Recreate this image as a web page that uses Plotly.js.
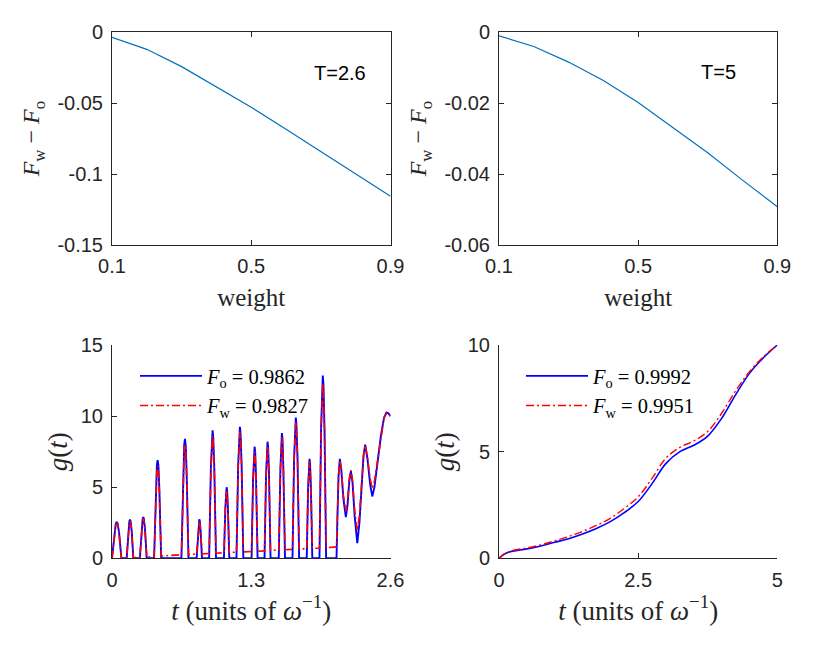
<!DOCTYPE html>
<html>
<head>
<meta charset="utf-8">
<script src="https://cdn.plot.ly/plotly-3.0.1.min.js"></script>
<style>
  body { margin: 0; background: #fff; }
  #graph { width: 830px; height: 651px; }
</style>
</head>
<body>
<div id="graph"></div>
<script>
// top row: fidelity difference vs weight
var weight = [0.1, 0.2, 0.3, 0.4, 0.5, 0.6, 0.7, 0.8, 0.9];
var diffT26 = [-0.0035, -0.0120, -0.0242, -0.0383, -0.0529, -0.0684, -0.0842, -0.0999, -0.1157];
var diffT5 = [-0.0010, -0.0040, -0.0084, -0.0136, -0.0198, -0.0268, -0.0340, -0.0417, -0.0492];

// bottom left: g(t) for T=2.6
var tShort = [0, 0.022, 0.035, 0.044, 0.053, 0.066, 0.088,
    0.137, 0.152, 0.162, 0.168, 0.174, 0.184, 0.199,
    0.260, 0.276, 0.286, 0.292, 0.298, 0.308, 0.324,
    0.393, 0.410, 0.419, 0.426, 0.433, 0.442, 0.459,
    0.648, 0.665, 0.674, 0.681, 0.688, 0.697, 0.714,
    0.790, 0.803, 0.810, 0.815, 0.820, 0.827, 0.840,
    0.907, 0.923, 0.933, 0.939, 0.945, 0.955, 0.971,
    1.045, 1.058, 1.065, 1.070, 1.075, 1.082, 1.095,
    1.162, 1.178, 1.188, 1.194, 1.200, 1.210, 1.226,
    1.303, 1.317, 1.325, 1.331, 1.337, 1.345, 1.359,
    1.424, 1.438, 1.446, 1.452, 1.458, 1.466, 1.480,
    1.557, 1.572, 1.580, 1.586, 1.592, 1.600, 1.615,
    1.685, 1.700, 1.710, 1.716, 1.722, 1.732, 1.747,
    1.818, 1.831, 1.839, 1.844, 1.849, 1.857, 1.870,
    1.937, 1.952, 1.962, 1.968, 1.974, 1.984, 1.999,
    2.096, 2.105, 2.115, 2.127, 2.140, 2.160, 2.183, 2.200, 2.215, 2.230,
    2.245, 2.265, 2.290, 2.310, 2.330, 2.348, 2.364, 2.385, 2.410, 2.430,
    2.450, 2.480, 2.510, 2.540, 2.562, 2.580, 2.600];
var gOrigShort = [0, 1.81, 2.42, 2.55, 2.42, 1.81, 0,
    0, 1.94, 2.59, 2.73, 2.59, 1.94, 0,
    0, 2.06, 2.76, 2.90, 2.76, 2.06, 0,
    0, 4.90, 6.56, 6.90, 6.56, 4.90, 0,
    0, 5.96, 7.98, 8.40, 7.98, 5.96, 0,
    0, 1.95, 2.61, 2.75, 2.61, 1.95, 0,
    0, 6.39, 8.55, 9.00, 8.55, 6.39, 0,
    0, 3.55, 4.75, 5.00, 4.75, 3.55, 0,
    0, 6.57, 8.79, 9.25, 8.79, 6.57, 0,
    0, 5.57, 7.46, 7.85, 7.46, 5.57, 0,
    0, 5.82, 7.79, 8.20, 7.79, 5.82, 0,
    0, 6.25, 8.36, 8.80, 8.36, 6.25, 0,
    0, 7.03, 9.41, 9.90, 9.41, 7.03, 0,
    0, 4.97, 6.65, 7.00, 6.65, 4.97, 0,
    0, 9.12, 12.21, 12.85, 12.21, 9.12, 0,
    0, 3.00, 5.80, 7.00, 6.30, 4.20, 2.90, 3.80, 5.40, 6.12,
    5.40, 3.00, 1.07, 2.50, 5.00, 7.20, 7.99, 7.00, 5.20, 4.35,
    5.00, 6.80, 8.60, 9.90, 10.25, 10.20, 10.00];
var gWeightShort = [0, 1.74, 2.33, 2.45, 2.33, 1.74, 0,
    0.03, 1.86, 2.47, 2.60, 2.47, 1.86, 0.05,
    0.07, 2.01, 2.66, 2.80, 2.66, 2.01, 0.09,
    0.12, 4.66, 6.18, 6.50, 6.18, 4.66, 0.16,
    0.25, 5.75, 7.61, 8.00, 7.61, 5.75, 0.27,
    0.29, 1.93, 2.49, 2.60, 2.49, 1.93, 0.31,
    0.34, 6.21, 8.19, 8.60, 8.19, 6.21, 0.36,
    0.39, 3.52, 4.58, 4.80, 4.58, 3.52, 0.41,
    0.43, 6.45, 8.48, 8.90, 8.48, 6.45, 0.45,
    0.48, 5.47, 7.15, 7.50, 7.15, 5.47, 0.50,
    0.52, 5.76, 7.53, 7.90, 7.53, 5.76, 0.55,
    0.58, 6.21, 8.10, 8.50, 8.10, 6.21, 0.60,
    0.63, 7.00, 9.15, 9.60, 9.15, 7.00, 0.65,
    0.68, 5.03, 6.49, 6.80, 6.49, 5.03, 0.70,
    0.72, 8.95, 11.72, 12.30, 11.72, 8.95, 0.75,
    0.80, 3.20, 5.80, 6.90, 6.30, 4.40, 3.30, 4.10, 5.60, 6.20,
    5.50, 3.40, 1.95, 3.00, 5.20, 7.20, 7.95, 7.10, 5.60, 4.90,
    5.40, 7.00, 8.60, 9.85, 10.20, 10.15, 10.00];

// bottom right: g(t) for T=5
var tLong = [0, 0.1, 0.2, 0.3, 0.5, 0.75, 1.0, 1.25, 1.5, 1.75, 2.0, 2.25, 2.5,
    2.75, 3.0, 3.25, 3.5, 3.75, 4.0, 4.25, 4.5, 4.75, 5.0];
var gOrigLong = [0, 0.20, 0.31, 0.36, 0.44, 0.58, 0.75, 0.92, 1.14, 1.40, 1.72, 2.14, 2.66,
    3.50, 4.45, 5.00, 5.30, 5.73, 6.56, 7.66, 8.67, 9.40, 10.0];
var gWeightLong = [0, 0.22, 0.33, 0.40, 0.48, 0.63, 0.82, 1.02, 1.26, 1.54, 1.87, 2.34, 2.88,
    3.75, 4.70, 5.20, 5.50, 5.95, 6.80, 7.85, 8.75, 9.45, 10.0];

var legendShort = ['<i>F</i><sub>o</sub> = 0.9862', '<i>F</i><sub>w</sub> = 0.9827'];
var legendLong = ['<i>F</i><sub>o</sub> = 0.9992', '<i>F</i><sub>w</sub> = 0.9951'];

var weightTicks = [0.1, 0.5, 0.9];
var diffT26Ticks = [0, -0.05, -0.1, -0.15];
var diffT26Text = ['0', '-0.05', '-0.1', '-0.15'];
var diffT5Ticks = [0, -0.02, -0.04, -0.06];
var diffT5Text = ['0', '-0.02', '-0.04', '-0.06'];
var tShortTicks = [0, 1.3, 2.6];
var gShortTicks = [0, 5, 10, 15];
var tLongTicks = [0, 2.5, 5];
var gLongTicks = [0, 5, 10];

var axisColor = '#262626';
var sans = 'Liberation Sans, Arial, sans-serif';
var serif = 'Liberation Serif, Times New Roman, serif';

function makeAxis(domain, anchor, range, ticks, text, boxed, titleText, titleSize, standoff, labelGap) {
    var ax = {
        domain: domain,
        anchor: anchor,
        range: range,
        tickmode: 'array',
        tickvals: ticks,
        ticktext: text || ticks.map(String),
        ticks: 'inside',
        ticklen: 5,
        tickwidth: 1,
        tickcolor: axisColor,
        ticklabelstandoff: labelGap,
        showline: true,
        linecolor: axisColor,
        linewidth: 1,
        mirror: boxed ? 'ticks' : false,
        showgrid: false,
        zeroline: false,
        tickfont: {family: sans, size: 20, color: axisColor},
        title: {text: titleText, standoff: standoff, font: {family: serif, size: titleSize, color: axisColor}}
    };
    return ax;
}

var fwfo = '<i>F</i><sub>w</sub> \u2212 <i>F</i><sub>o</sub>';
var tlabel = '<i>t</i> (units of <i>\u03c9</i><sup>\u22121</sup>)';
var glabel = '<i>g</i>(<i>t</i>)';

var traces = [
    {x: weight, y: diffT26, xaxis: 'x', yaxis: 'y', mode: 'lines', showlegend: false,
        line: {color: '#0072BD', width: 1.2}},
    {x: weight, y: diffT5, xaxis: 'x2', yaxis: 'y2', mode: 'lines', showlegend: false,
        line: {color: '#0072BD', width: 1.2}},
    {x: tShort, y: gOrigShort, xaxis: 'x3', yaxis: 'y3', mode: 'lines', name: legendShort[0],
        legend: 'legend', line: {color: '#0000FF', width: 1.9}},
    {x: tShort, y: gWeightShort, xaxis: 'x3', yaxis: 'y3', mode: 'lines', name: legendShort[1],
        legend: 'legend', line: {color: '#FF0000', width: 1.6, dash: '8px,3px,2px,3px'}},
    {x: tLong, y: gOrigLong, xaxis: 'x4', yaxis: 'y4', mode: 'lines', name: legendLong[0],
        legend: 'legend2', line: {color: '#0000FF', width: 1.6, shape: 'spline'}},
    {x: tLong, y: gWeightLong, xaxis: 'x4', yaxis: 'y4', mode: 'lines', name: legendLong[1],
        legend: 'legend2', line: {color: '#FF0000', width: 1.4, dash: '8px,3px,2px,3px', shape: 'spline'}}
];

var colL = [112 / 830, 390.5 / 830];
var colR = [499 / 830, 777.3 / 830];
var rowT = [(651 - 245) / 651, (651 - 32.3) / 651];
var rowB = [(651 - 558.3) / 651, (651 - 345) / 651];

var legendFont = {family: serif, size: 20.5, color: '#000'};

var layout = {
    width: 830,
    height: 651,
    margin: {l: 0, r: 0, t: 0, b: 0},
    paper_bgcolor: '#fff',
    plot_bgcolor: '#fff',
    showlegend: true,
    xaxis: makeAxis(colL, 'y', [0.1, 0.9], weightTicks, null, true, 'weight', 25, 12, 3),
    yaxis: makeAxis(rowT, 'x', [-0.15, 0], diffT26Ticks, diffT26Text, true, fwfo, 24, 10, 4),
    xaxis2: makeAxis(colR, 'y2', [0.1, 0.9], weightTicks, null, true, 'weight', 25, 12, 3),
    yaxis2: makeAxis(rowT, 'x2', [-0.06, 0], diffT5Ticks, diffT5Text, true, fwfo, 24, 10, 4),
    xaxis3: makeAxis(colL, 'y3', [0, 2.6], tShortTicks, null, false, tlabel, 27, 10, 4),
    yaxis3: makeAxis(rowB, 'x3', [0, 15], gShortTicks, null, false, glabel, 27, 5, 4),
    xaxis4: makeAxis(colR, 'y4', [0, 5], tLongTicks, null, false, tlabel, 27, 10, 4),
    yaxis4: makeAxis(rowB, 'x4', [0, 10], gLongTicks, null, false, glabel, 27, 5, 4),
    legend: {x: 135 / 830, y: (651 - 391) / 651, xanchor: 'left', yanchor: 'middle',
        bgcolor: 'rgba(0,0,0,0)', font: legendFont, itemwidth: 62, tracegroupgap: 0},
    legend2: {x: 521 / 830, y: (651 - 391) / 651, xanchor: 'left', yanchor: 'middle',
        bgcolor: 'rgba(0,0,0,0)', font: legendFont, itemwidth: 62, tracegroupgap: 0},
    annotations: [
        {x: 0.7535, y: -0.0285, xref: 'x', yref: 'y', text: 'T=2.6', showarrow: false,
            font: {family: sans, size: 20, color: '#000'}},
        {x: 0.730, y: -0.0112, xref: 'x2', yref: 'y2', text: 'T=5', showarrow: false,
            font: {family: sans, size: 20, color: '#000'}}
    ]
};

Plotly.newPlot('graph', traces, layout, {displayModeBar: false, staticPlot: true});
</script>
</body>
</html>
